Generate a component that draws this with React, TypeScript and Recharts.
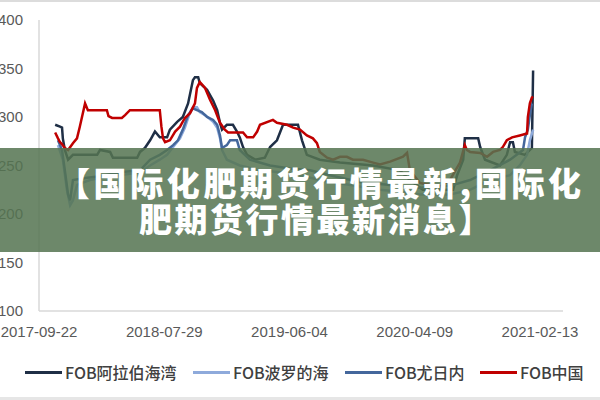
import React from "react";
import { LineChart, Line, XAxis, YAxis } from "recharts";

// x values are days counted from 2017-09-22
const xTickDays = [0, 310, 620, 930, 1240];
const xTickLabels = ["2017-09-22", "2018-07-29", "2019-06-04", "2020-04-09", "2021-02-13"];
const yTicks = [100, 150, 200, 250, 300, 350, 400];

const arabGulf: [number, number][] = [
  [40, 292], [52, 290], [57, 289], [59, 278], [64, 266], [72, 256], [84, 261], [144, 261], [151, 266],
  [176, 264], [183, 258], [243, 258], [250, 264], [262, 268], [275, 276], [287, 285], [299, 279],
  [317, 279], [324, 287], [342, 295], [356, 300], [369, 314], [381, 338], [386, 341], [394, 341],
  [398, 335], [416, 328], [431, 317], [441, 307], [448, 294], [453, 287], [465, 292], [480, 292],
  [490, 285], [497, 279], [505, 269], [515, 261], [535, 256], [559, 258], [572, 269], [589, 276],
  [604, 292], [641, 292], [651, 276], [663, 261], [695, 256], [745, 253], [827, 250], [893, 245],
  [918, 235], [950, 225], [1025, 225], [1035, 240], [1050, 256], [1054, 278], [1087, 278], [1092, 269],
  [1104, 256], [1141, 250], [1158, 261], [1166, 274], [1173, 274], [1178, 264], [1203, 261],
  [1215, 266], [1220, 268], [1223, 348],
];

const baltic: [number, number][] = [
  [47, 271], [59, 256], [69, 225], [77, 209], [84, 214], [94, 230], [126, 235], [151, 237], [200, 240],
  [250, 243], [275, 250], [299, 256], [317, 261], [332, 269], [349, 278], [361, 289], [374, 305],
  [381, 310], [391, 310], [398, 305], [411, 302], [431, 295], [441, 289], [448, 278], [453, 266],
  [465, 256], [497, 250], [547, 245], [596, 243], [646, 240], [695, 235], [770, 230], [844, 225],
  [893, 223], [943, 220], [1017, 220], [1067, 225], [1116, 235], [1166, 240], [1190, 250],
  [1208, 261], [1215, 276], [1223, 287],
];

const yuzhny: [number, number][] = [
  [47, 276], [57, 266], [64, 245], [72, 220], [77, 214], [84, 235], [114, 237], [151, 239], [200, 243],
  [250, 245], [275, 256], [299, 261], [317, 266], [332, 271], [344, 276], [356, 287], [369, 302],
  [381, 309], [391, 307], [403, 305], [416, 300], [431, 297], [441, 292], [448, 281], [453, 268],
  [465, 271], [473, 276], [490, 276], [497, 266], [522, 256], [572, 250], [621, 247], [671, 245],
  [720, 240], [794, 233], [869, 230], [943, 227], [1017, 229], [1067, 235], [1116, 245], [1166, 256],
  [1198, 266], [1203, 279], [1210, 287], [1215, 302], [1220, 314],
];

const china: [number, number][] = [
  [40, 284], [47, 278], [52, 274], [57, 272], [64, 268], [72, 266], [84, 273], [94, 278], [101, 290],
  [114, 314], [121, 307], [168, 307], [172, 301], [181, 299], [205, 299], [213, 302], [225, 307],
  [299, 307], [303, 290], [307, 278], [312, 274], [324, 276], [337, 285], [349, 290], [361, 299],
  [374, 304], [386, 314], [391, 330], [398, 336], [411, 330], [423, 318], [436, 307], [448, 294],
  [460, 287], [468, 284], [505, 284], [515, 279], [530, 279], [540, 285], [547, 292], [579, 297],
  [589, 294], [614, 292], [629, 289], [646, 287], [663, 281], [678, 278], [688, 273], [695, 264],
  [713, 258], [728, 256], [745, 259], [762, 259], [777, 256], [802, 256], [827, 253], [844, 251],
  [869, 254], [901, 259], [911, 263], [918, 245], [943, 232], [992, 228], [1017, 235], [1042, 253],
  [1054, 271], [1059, 266], [1067, 264], [1092, 263], [1109, 259], [1124, 264], [1141, 266],
  [1148, 269], [1158, 276], [1171, 279], [1190, 281], [1208, 283], [1210, 300], [1215, 314],
  [1220, 320], [1223, 321],
];

const series = [
  { name: "FOB阿拉伯海湾", color: "#1f2f46", points: arabGulf },
  { name: "FOB波罗的海", color: "#8eaadb", points: baltic },
  { name: "FOB尤日内", color: "#44679c", points: yuzhny },
  { name: "FOB中国", color: "#c00000", points: china },
];

const titleLines = ["【国际化肥期货行情最新,国际化", "肥期货行情最新消息】"];

const legendLefts = [25, 193, 345, 480];

const toRows = (pts: [number, number][]) => pts.map(([d, v]) => ({ d, v }));

const tickStyle = { fill: "#595959", fontSize: 15, fontFamily: "Liberation Sans" };

const titleStyle: React.CSSProperties = {
  position: "absolute",
  fontFamily: "'Noto Sans CJK SC'",
  fontWeight: 900,
  fontSize: 33,
  letterSpacing: 2.5,
  lineHeight: "33px",
  color: "#fff",
  whiteSpace: "nowrap",
};

export default function App() {
  return (
    <div style={{ position: "fixed", left: 0, top: 0, width: 600, height: 400, background: "#fff", overflow: "hidden" }}>
      <LineChart width={600} height={400} margin={{ top: 20, right: 37, bottom: 0, left: 0 }}>
        <XAxis
          type="number"
          dataKey="d"
          domain={[0, 1297]}
          ticks={xTickDays}
          interval={0}
          tickFormatter={(d: number) => xTickLabels[xTickDays.indexOf(d)]}
          height={89}
          tickLine={false}
          tickSize={6}
          tickMargin={9}
          axisLine={{ stroke: "#d9d9d9", strokeWidth: 1.5 }}
          tick={tickStyle}
        />
        <YAxis
          type="number"
          domain={[100, 400]}
          ticks={yTicks}
          interval={0}
          width={39}
          tickLine={false}
          tickSize={6}
          tickMargin={10}
          axisLine={{ stroke: "#d9d9d9", strokeWidth: 1.5 }}
          tick={tickStyle}
        />
        {series.map((s) => (
          <Line
            key={s.name}
            data={toRows(s.points)}
            dataKey="v"
            type="linear"
            stroke={s.color}
            strokeWidth={2.5}
            dot={false}
            isAnimationActive={false}
          />
        ))}
      </LineChart>

      {/* legend */}
      {series.map((s, i) => (
        <div
          key={s.name}
          style={{
            position: "absolute",
            left: legendLefts[i],
            top: 361,
            height: 22,
            display: "flex",
            alignItems: "center",
            fontFamily: "'Noto Sans CJK SC'",
            fontSize: 16,
            fontWeight: 500,
            color: "#404040",
            whiteSpace: "nowrap",
          }}
        >
          <span style={{ display: "inline-block", width: 37, height: 3, background: s.color, marginRight: 3 }} />
          <span>{s.name}</span>
        </div>
      ))}

      {/* title banner */}
      <div style={{ position: "absolute", left: 0, top: 148, width: 600, height: 104, background: "rgba(85,117,82,0.86)" }} />
      <div style={{ ...titleStyle, left: 57, top: 166, letterSpacing: 3.6 }}>{titleLines[0]}</div>
      <div style={{ ...titleStyle, left: 139, top: 202 }}>{titleLines[1]}</div>

      <div style={{ position: "absolute", left: 0, top: 0, width: 600, height: 2, background: "#dcdcdc" }} />
      <div style={{ position: "absolute", left: 0, top: 397, width: 600, height: 3, background: "#e6e6e6" }} />
    </div>
  );
}
